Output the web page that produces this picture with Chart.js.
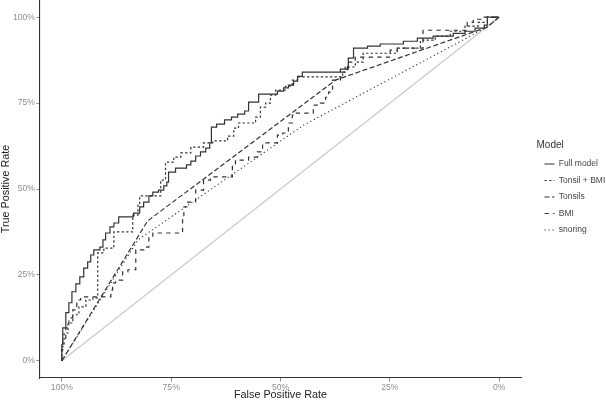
<!DOCTYPE html>
<html>
<head>
<meta charset="utf-8">
<script src="https://cdn.jsdelivr.net/npm/chart.js@4.4.1/dist/chart.umd.min.js"></script>
<style>
html,body{margin:0;padding:0;background:#ffffff;}
#wrap{width:606px;height:402px;}
</style>
</head>
<body>
<div id="wrap"><canvas id="c" width="606" height="402"></canvas></div>
<script>
// ---- data (specificity on x, sensitivity on y) ----
const modelNames = ['Full model', 'Tonsil + BMI', 'Tonsils', 'BMI', 'snoring'];
const axisTicks = [0, 0.25, 0.5, 0.75, 1];

const fullSpec = [1.000,0.998,0.991,0.984,0.977,0.968,0.959,0.950,0.941,0.934,0.927,0.913,0.906,0.900,0.890,0.881,0.870,0.836,0.822,0.813,0.801,0.792,0.779,0.767,0.760,0.756,0.740,0.715,0.705,0.694,0.683,0.671,0.662,0.658,0.646,0.628,0.612,0.598,0.582,0.573,0.550,0.507,0.493,0.482,0.470,0.461,0.450,0.363,0.345,0.333,0.301,0.272,0.219,0.187,0.151,0.105,0.078,0.055,0.034,0.027,0.000];
const fullSens = [0,0.047,0.096,0.140,0.169,0.201,0.224,0.244,0.270,0.288,0.308,0.323,0.331,0.352,0.372,0.390,0.401,0.419,0.430,0.448,0.462,0.480,0.491,0.497,0.509,0.520,0.549,0.561,0.570,0.581,0.596,0.608,0.619,0.634,0.680,0.689,0.701,0.709,0.718,0.727,0.753,0.776,0.785,0.794,0.802,0.814,0.828,0.840,0.849,0.881,0.910,0.916,0.922,0.930,0.939,0.945,0.953,0.959,0.968,0.977,1.000];

const tbSpec = [1.000,0.995,0.986,0.975,0.961,0.945,0.929,0.918,0.904,0.881,0.838,0.826,0.822,0.774,0.763,0.744,0.728,0.705,0.676,0.655,0.621,0.607,0.596,0.557,0.546,0.534,0.523,0.511,0.489,0.473,0.461,0.358,0.352,0.329,0.311,0.233,0.180,0.146,0.112,0.078,0.048,0.027,0.000];
const tbSens = [0,0.041,0.081,0.110,0.134,0.157,0.177,0.183,0.314,0.328,0.375,0.424,0.453,0.480,0.526,0.578,0.593,0.605,0.622,0.634,0.640,0.654,0.677,0.692,0.709,0.738,0.750,0.773,0.788,0.799,0.817,0.826,0.840,0.855,0.869,0.895,0.910,0.933,0.945,0.959,0.974,0.985,1.000];

const tonSpec = [1.000,0.804,0.374,0.027,0.000];
const tonSens = [0,0.407,0.817,0.971,1.000];

const bmiSpec = [1.000,0.998,0.991,0.984,0.975,0.966,0.957,0.888,0.884,0.877,0.861,0.849,0.831,0.808,0.801,0.792,0.724,0.721,0.712,0.694,0.676,0.660,0.610,0.603,0.573,0.553,0.541,0.507,0.495,0.482,0.473,0.468,0.425,0.409,0.397,0.390,0.381,0.363,0.347,0.329,0.249,0.233,0.174,0.073,0.059,0.039,0.000];
const bmiSens = [0,0.032,0.061,0.096,0.125,0.148,0.177,0.186,0.206,0.227,0.235,0.259,0.265,0.323,0.331,0.360,0.372,0.410,0.448,0.462,0.497,0.526,0.535,0.570,0.584,0.593,0.608,0.634,0.657,0.663,0.692,0.715,0.721,0.744,0.750,0.767,0.782,0.817,0.840,0.869,0.884,0.904,0.910,0.962,0.985,0.994,1.000];

const snSpec = [1.000,0.826,0.447,0.032,0.000];
const snSens = [0,0.352,0.686,0.968,1.000];

const diagSpec = [1, 0];
const diagSens = [0, 1];

// ---- build ----
const pts = (xs, ys) => xs.map((x, i) => ({x: x, y: ys[i]}));
const FONT = '"Liberation Sans", Arial, Helvetica, sans-serif';
const LINE = '#333333';

const base = {showLine: true, pointRadius: 0, borderColor: LINE, backgroundColor: LINE, borderWidth: 1.2, fill: false, tension: 0};

const datasets = [
  Object.assign({}, base, {label: modelNames[0], data: pts(fullSpec, fullSens), stepped: 'after', borderDash: []}),
  Object.assign({}, base, {label: modelNames[1], data: pts(tbSpec, tbSens), stepped: 'after', borderDash: [2.3, 2.3]}),
  Object.assign({}, base, {label: modelNames[2], data: pts(tonSpec, tonSens), borderDash: [5, 2.5]}),
  Object.assign({}, base, {label: modelNames[3], data: pts(bmiSpec, bmiSens), stepped: 'after', borderDash: [4.3, 4.3]}),
  Object.assign({}, base, {label: modelNames[4], data: pts(snSpec, snSens), borderDash: [1.2, 2.8], borderWidth: 1.1}),
  Object.assign({}, base, {label: 'reference', data: pts(diagSpec, diagSens), borderColor: '#c9c9c9', borderWidth: 1.2})
];

const legendPlace = {
  id: 'legendPlace',
  beforeLayout(chart) {
    const lg = chart.legend;
    if (lg && !lg._patched) {
      const f = lg.fit;
      lg.fit = function () { f.call(this); this.width = 85; };
      lg._patched = true;
    }
  },
  afterLayout(chart) {
    const lg = chart.legend;
    if (!lg) return;
    const w = lg.width;
    lg.left = 536.5; lg.right = 536.5 + w;
    lg.top = 2; lg.bottom = 380; lg.height = 378;
  }
};

const tickFont = {family: FONT, size: 8.6};
const titleFont = {family: FONT, size: 10.8};

new Chart(document.getElementById('c'), {
  type: 'scatter',
  data: {datasets: datasets},
  plugins: [legendPlace],
  options: {
    responsive: false,
    animation: false,
    events: [],
    layout: {padding: 0},
    scales: {
      x: {
        type: 'linear', reverse: true, min: -0.05, max: 1.05,
        afterBuildTicks: s => { s.ticks = axisTicks.map(v => ({value: v})); },
        afterFit: s => { s.height = 24; s.paddingLeft = 0; s.paddingRight = 0; },
        ticks: {callback: v => Math.round(v * 100) + '%', color: '#8f8f8f', font: tickFont, padding: 0.5, maxRotation: 0, autoSkip: false},
        grid: {display: true, drawOnChartArea: false, drawTicks: true, tickLength: 3.5, color: '#8a8a8a', lineWidth: 1},
        border: {display: true, color: '#333333', width: 1.1},
        title: {display: true, text: 'False Positive Rate', color: '#222222', font: titleFont, padding: {top: 0, bottom: 0}}
      },
      y: {
        type: 'linear', min: -0.05, max: 1.05,
        afterBuildTicks: s => { s.ticks = axisTicks.map(v => ({value: v})); },
        afterFit: s => { s.width = 40; s.paddingTop = 0; s.paddingBottom = 0; },
        ticks: {callback: v => Math.round(v * 100) + '%', color: '#8f8f8f', font: tickFont, padding: 1.5, autoSkip: false},
        grid: {display: true, drawOnChartArea: false, drawTicks: true, tickLength: 3.5, color: '#8a8a8a', lineWidth: 1},
        border: {display: true, color: '#333333', width: 1.1},
        title: {display: true, text: 'True Positive Rate', color: '#222222', font: titleFont, padding: {top: 0, bottom: 0}}
      }
    },
    plugins: {
      tooltip: {enabled: false},
      legend: {
        display: true,
        position: 'right',
        align: 'center',
        title: {display: true, text: 'Model', color: '#333333', font: {family: FONT, size: 10}, padding: 0, position: 'start'},
        labels: {
          usePointStyle: true, pointStyle: 'line', pointStyleWidth: 10,
          padding: 8, color: '#444444', font: {family: FONT, size: 8.5},
          generateLabels: chart => chart.data.datasets.map((ds, i) => ({
            text: ds.label,
            datasetIndex: i,
            fillStyle: ds.borderColor,
            strokeStyle: ds.borderColor,
            fontColor: '#444444',
            lineWidth: ds.borderWidth,
            lineDash: ds.borderDash || [],
            lineCap: 'butt',
            pointStyle: 'line',
            hidden: false
          })),
          filter: item => item.datasetIndex < 5
        }
      }
    }
  }
});
</script>
</body>
</html>
